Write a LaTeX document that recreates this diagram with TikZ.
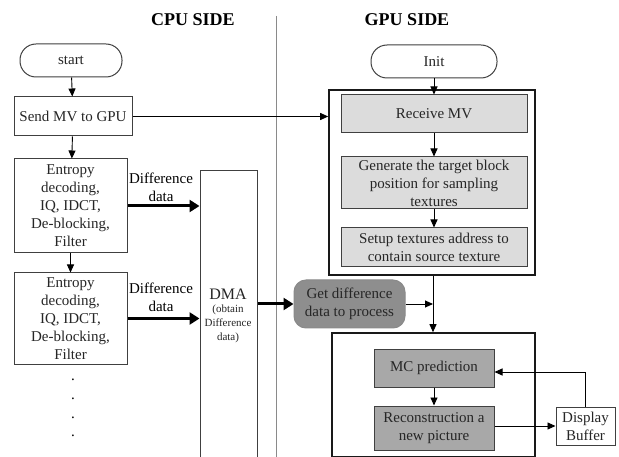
\documentclass[tikz,border=0pt]{standalone}
\usepackage{fontspec}
\setmainfont{Liberation Serif}
\usetikzlibrary{arrows.meta}
\definecolor{lightfill}{HTML}{DCDCDC}
\definecolor{midfill}{HTML}{A8A8A8}
\definecolor{darkfill}{HTML}{8E8E8E}
\definecolor{edge}{HTML}{404040}
\definecolor{divider}{HTML}{8A8A8A}
\tikzset{
  base/.style={draw=edge, line width=1pt, inner sep=0pt, align=center,
    font=\fontsize{15}{18}\selectfont, text=black!85},
  term/.style={base, rounded corners=16pt},
  plainbox/.style={base, fill=white},
  lightbox/.style={base, fill=lightfill},
  midbox/.style={base, fill=midfill},
  darkbox/.style={base, fill=darkfill, draw=divider, rounded corners=12pt},
  outerbox/.style={draw=black!90, line width=1.6pt, inner sep=0pt},
  lbl/.style={inner sep=0pt, align=center, font=\fontsize{15}{18}\selectfont},
  title/.style={inner sep=0pt, font=\fontsize{18}{20}\selectfont\bfseries},
  conn/.style={draw=black, line width=0.9pt, -{Triangle[length=8pt,width=7pt]}},
  thick conn/.style={draw=black, line width=3pt, -{Triangle[length=10pt,width=12pt]}},
  line/.style={draw=black, line width=0.9pt}
}
\begin{document}
\begin{tikzpicture}[x=1pt,y=-1pt]
\clip (0,0) rectangle (619,457);
\fill[white] (0,0) rectangle (619,457);
% titles and divider
\node[title] (cputitle) at (193,20) {CPU SIDE};
\node[title] (gputitle) at (407,20) {GPU SIDE};
\coordinate (divtop) at (276,16);
\coordinate (divbot) at (276,460);
\draw[divider, line width=1pt] (divtop) -- (divbot);
% CPU side
\node[term, minimum width=102pt, minimum height=33pt] (start) at (71,60.5) {start};
\node[plainbox, minimum width=118pt, minimum height=39pt] (send) at (73,116.5) {Send MV to GPU};
\node[plainbox, minimum width=113pt, minimum height=94pt] (ent1) at (70.5,206)
  {Entropy\\decoding,\\IQ, IDCT,\\De-blocking,\\Filter};
\node[plainbox, minimum width=113pt, minimum height=91pt] (ent2) at (70.5,318.5)
  {Entropy\\decoding,\\IQ, IDCT,\\De-blocking,\\Filter};
\node[inner sep=0pt, align=center, font=\fontsize{15}{18.7}\selectfont] (dots) at (73,408) {.\\.\\.\\.};
\node[lbl] (lbl1) at (161,187) {Difference\\data};
\node[lbl] (lbl2) at (161,297.5) {Difference\\data};
\node[plainbox, minimum width=57pt, minimum height=287pt] (dma) at (228.5,314.5) {};
\node[inner sep=0pt, font=\fontsize{16}{18}\selectfont, text=black!85] (dmat) at (228,294) {DMA};
\node[inner sep=0pt, align=center, font=\fontsize{11}{14}\selectfont, text=black!85] (dmasub) at (228,324) {(obtain\\Difference\\data)};
% GPU side
\node[term, minimum width=126pt, minimum height=33pt] (init) at (434,61.5) {Init};
\node[outerbox, minimum width=206pt, minimum height=185pt] (outer1) at (432,182.5) {};
\node[lightbox, minimum width=186pt, minimum height=38pt] (recv) at (434,114) {Receive MV};
\node[lightbox, minimum width=186pt, minimum height=52pt] (gen) at (434,183)
  {Generate the target block\\position for sampling\\textures};
\node[lightbox, minimum width=186pt, minimum height=39pt] (setup) at (434,247.5)
  {Setup textures address to\\contain source texture};
\node[darkbox, minimum width=111pt, minimum height=48pt] (getdiff) at (349.5,304)
  {Get difference\\data to process};
\node[outerbox, minimum width=203pt, minimum height=124pt] (outer2) at (433.5,395) {};
\node[midbox, minimum width=120pt, minimum height=38pt] (mc) at (434,368) {MC prediction};
\node[midbox, minimum width=120pt, minimum height=44pt] (recon) at (434,428)
  {Reconstruction a\\new picture};
\node[plainbox, minimum width=59pt, minimum height=38pt] (disp) at (585.5,426) {Display\\Buffer};
% connectors
\draw[conn] (start) -- (send);
\draw[conn] (send.east) -- (send.east -| outer1.west);
\draw[conn] (send) -- (ent1);
\draw[conn] (ent1) -- (ent2);
\draw[thick conn] (ent1.east) -- (ent1.east -| dma.west);
\draw[thick conn] (ent2.east) -- (ent2.east -| dma.west);
\draw[thick conn] (getdiff.west -| dma.east) -- (getdiff.west);
\draw[conn] (init) -- (recv);
\draw[conn] (recv) -- (gen);
\draw[conn] (gen) -- (setup);
\coordinate (join) at (433,304);
\draw[conn] (outer1.south -| join) -- (outer2.north -| join);
\draw[conn] (getdiff.east) -- (join);
\draw[conn] (mc) -- (recon);
\draw[conn] (recon.east |- disp.west) -- (disp.west);
\draw[conn] (disp.north) |- ([yshift=-4pt]mc.east);
\end{tikzpicture}
\end{document}
